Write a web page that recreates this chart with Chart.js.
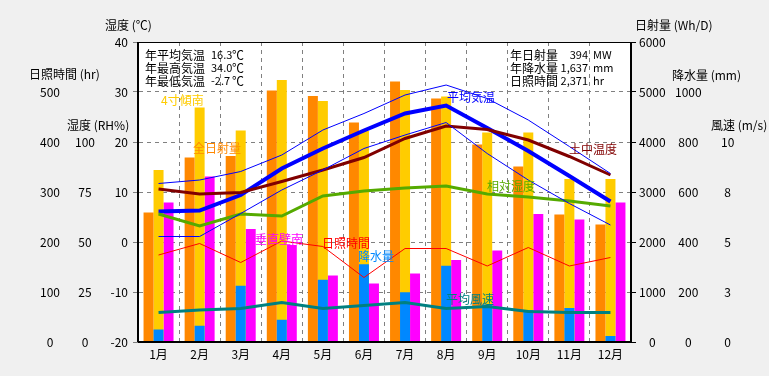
<!DOCTYPE html>
<html>
<head>
<meta charset="utf-8">
<script src="https://cdn.jsdelivr.net/npm/chart.js@4"></script>
<style>
  body { margin: 0; background: #f0f0f0; }
  canvas { display: block; }
</style>
</head>
<body>
<canvas id="myChart" width="769" height="376"></canvas>
<script>
// data
const months = ["1月", "2月", "3月", "4月", "5月", "6月", "7月", "8月", "9月", "10月", "11月", "12月"];

const solarAll = [2590, 3690, 3720, 5030, 4920, 4390, 5210, 4870, 3950, 3510, 2550, 2350];   // 全日射量 Wh/D
const solarTilt = [3440, 4690, 4230, 5240, 4820, 4220, 5040, 4910, 4190, 4190, 3260, 3260];  // 4寸傾南
const solarWall = [2790, 3310, 2260, 1940, 1330, 1170, 1370, 1640, 1830, 2560, 2450, 2790];  // 垂直壁南
const precip = [50, 65, 225, 89, 249, 311, 199, 305, 150, 128, 136, 24];                     // 降水量 mm

const tempAvg = [6.1, 6.3, 9.4, 14.7, 18.7, 22.3, 25.7, 27.3, 22.8, 18.2, 13.2, 8.1];
const tempMax = [11.7, 12.4, 14.1, 17.4, 22.4, 25.7, 29.4, 31.4, 28.7, 24.4, 19.1, 13.7];
const tempMin = [1.1, 1.1, 5.7, 10.4, 14.4, 18.7, 21.4, 23.9, 17.7, 12.4, 7.7, 3.4];
const soilTemp = [10.6, 9.6, 9.9, 12.1, 14.4, 16.9, 20.7, 23.2, 22.5, 20.4, 17.1, 13.4];
const humidity = [64, 58, 64, 63, 73, 75.5, 77, 78, 74, 72.5, 70.5, 68];
const sunHours = [174, 197, 159, 202, 191, 129, 187, 187, 152, 189, 152, 169];
const windAvg = [1.48, 1.6, 1.68, 1.97, 1.68, 1.82, 1.97, 1.68, 1.77, 1.52, 1.48, 1.48];

// tick labels
const tempTicks = ["-20", "-10", "0", "10", "20", "30", "40"];
const sunTicks = ["0", "100", "200", "300", "400", "500"];
const rhTicks = ["0", "25", "50", "75", "100"];
const solarTicks = ["0", "1000", "2000", "3000", "4000", "5000", "6000"];
const rainTicks = ["0", "200", "400", "600", "800", "1000"];
const windTicks = ["0", "3", "5", "8", "10"];

const summaryLeft = [["年平均気温", "16.3", "℃"], ["年最高気温", "34.0", "℃"], ["年最低気温", "-2.7", "℃"]];
const summaryRight = [["年日射量", "394", "MW"], ["年降水量", "1,637", "mm"], ["日照時間", "2,371", "hr"]];

const FONT = '"Noto Sans CJK JP", sans-serif';
Chart.defaults.font.family = FONT;
Chart.defaults.font.size = 12;
Chart.defaults.color = "#000";

// text on the canvas: axis titles, summary, series names
const decor = {
    id: "decor",
    beforeDraw(chart) {
        const { ctx, chartArea: a } = chart;
        ctx.save();
        ctx.fillStyle = "#fff";
        ctx.fillRect(a.left, a.top, a.right - a.left, a.bottom - a.top);
        ctx.restore();
    },
    afterDraw(chart) {
        const { ctx, chartArea: a } = chart;
        ctx.save();
        ctx.strokeStyle = "#000";
        ctx.lineWidth = 1;
        ctx.strokeRect(a.left - 0.5, a.top + 0.5, a.right - a.left, a.bottom - a.top - 1);

        ctx.font = "12px " + FONT;
        ctx.textBaseline = "middle";
        ctx.fillStyle = "#000";

        // axis titles
        const titles = [
            ["湿度 (℃)", 105, 25], ["日照時間 (hr)", 29, 74], ["湿度 (RH%)", 67, 125],
            ["日射量 (Wh/D)", 635, 25], ["降水量 (mm)", 672, 75], ["風速 (m/s)", 711, 125]
        ];
        titles.forEach(t => ctx.fillText(t[0], t[1], t[2]));

        // yearly summary
        const small = "11px " + FONT;
        const big = "12px " + FONT;
        summaryLeft.forEach((r, i) => {
            const y = 55 + i * 13;
            ctx.textAlign = "left";
            ctx.font = big;
            ctx.fillText(r[0], 145, y);
            ctx.fillText(r[2], 232, y);
            ctx.font = small;
            ctx.fillText(r[1], 211, y);
        });
        summaryRight.forEach((r, i) => {
            const y = 55 + i * 13;
            ctx.textAlign = "left";
            ctx.font = big;
            ctx.fillText(r[0], 510, y);
            ctx.font = small;
            ctx.fillText(r[2], 593, y);
            ctx.textAlign = "right";
            ctx.fillText(r[1], 588, y);
        });

        // series names
        const names = [
            ["4寸傾南", "#ffcc00", 161, 100], ["全日射量", "#ff8800", 193, 148],
            ["平均気温", "#0000ff", 447, 97], ["土中温度", "#800000", 569, 149],
            ["相対湿度", "#55aa00", 487, 186], ["垂直壁南", "#ff00ff", 255, 239],
            ["日照時間", "#ff0000", 322, 243], ["降水量", "#0088ff", 358, 256],
            ["平均風速", "#008080", 446, 299]
        ];
        ctx.font = big;
        ctx.textAlign = "left";
        names.forEach(n => {
            ctx.fillStyle = n[1];
            ctx.fillText(n[0], n[2], n[3]);
        });
        ctx.restore();
    }
};

const line = (label, data, color, width, axis) => ({
    type: "line",
    label: label,
    data: data,
    borderColor: color,
    borderWidth: width,
    pointRadius: 0,
    tension: 0,
    fill: false,
    yAxisID: axis,
    order: 1
});

const bar = (label, data, color) => ({
    type: "bar",
    label: label,
    data: data,
    backgroundColor: color,
    borderWidth: 0,
    categoryPercentage: 0.73,
    barPercentage: 1,
    yAxisID: "ySol",
    order: 10
});

const ctx1 = document.getElementById("myChart").getContext("2d");

new Chart(ctx1, {
    data: {
        labels: months,
        datasets: [
            bar("全日射量", solarAll, "#ff8800"),
            bar("4寸傾南", solarTilt, "#ffcc00"),
            bar("垂直壁南", solarWall, "#ff00ff"),
            {
                // sits on top of the middle bar
                type: "bar",
                label: "降水量",
                data: precip,
                backgroundColor: "#0088ff",
                borderWidth: 0,
                grouped: false,
                categoryPercentage: 0.73 / 3,
                barPercentage: 1,
                yAxisID: "yRain",
                order: 5
            },
            line("最低気温", tempMin, "#0000ff", 1, "yT"),
            line("最高気温", tempMax, "#0000ff", 1, "yT"),
            line("日照時間", sunHours, "#ff0000", 1, "ySun"),
            line("相対湿度", humidity, "#55aa00", 3, "yRH"),
            line("平均風速", windAvg, "#008080", 3, "yWind"),
            line("土中温度", soilTemp, "#800000", 3, "yT"),
            line("平均気温", tempAvg, "#0000ff", 4, "yT")
        ]
    },
    options: {
        responsive: false,
        animation: false,
        layout: { padding: { top: 42 } },
        plugins: {
            legend: { display: false },
            tooltip: { enabled: false }
        },
        scales: {
            x: {
                offset: true,
                grid: { offset: true, color: "#808080", drawTicks: false },
                border: { color: "#000", dash: [4, 4] },
                ticks: { padding: 5, maxRotation: 0 },
                afterFit: s => { s.height = 34; }
            },
            yT: {
                position: "left",
                weight: 0,
                min: -20,
                max: 40,
                ticks: { stepSize: 10, padding: 5, callback: (v, i) => tempTicks[i] },
                grid: { color: "#808080", tickLength: 5 },
                border: { color: "#000", dash: [4, 4] },
                afterFit: s => { s.width = 40; }
            },
            yRH: {
                position: "left",
                weight: 1,
                min: 0,
                max: 150,
                ticks: { stepSize: 25, padding: 3, crossAlign: "center", callback: (v, i) => rhTicks[i] ?? "" },
                grid: { display: false, drawTicks: false },
                border: { display: false },
                afterFit: s => { s.width = 38; }
            },
            ySun: {
                position: "left",
                weight: 2,
                min: 0,
                max: 600,
                ticks: { stepSize: 100, padding: 0, crossAlign: "center", callback: (v, i) => sunTicks[i] ?? "" },
                grid: { display: false, drawTicks: false },
                border: { display: false },
                afterFit: s => { s.width = 60; }
            },
            ySol: {
                position: "right",
                weight: 0,
                min: 0,
                max: 6000,
                ticks: { stepSize: 1000, padding: 3, crossAlign: "center", callback: (v, i) => solarTicks[i] },
                grid: { drawOnChartArea: false, color: "#000", tickLength: 5 },
                border: { color: "#000" },
                afterFit: s => { s.width = 41; }
            },
            yRain: {
                position: "right",
                weight: 1,
                min: 0,
                max: 1200,
                ticks: { stepSize: 200, padding: 3, crossAlign: "center", callback: (v, i) => rainTicks[i] ?? "" },
                grid: { display: false, drawTicks: false },
                border: { display: false },
                afterFit: s => { s.width = 46; }
            },
            yWind: {
                position: "right",
                weight: 2,
                min: 0,
                max: 15,
                ticks: { stepSize: 2.5, padding: 3, crossAlign: "center", callback: (v, i) => windTicks[i] ?? "" },
                grid: { display: false, drawTicks: false },
                border: { display: false },
                afterFit: s => { s.width = 51; }
            }
        }
    },
    plugins: [decor]
});
</script>
</body>
</html>
